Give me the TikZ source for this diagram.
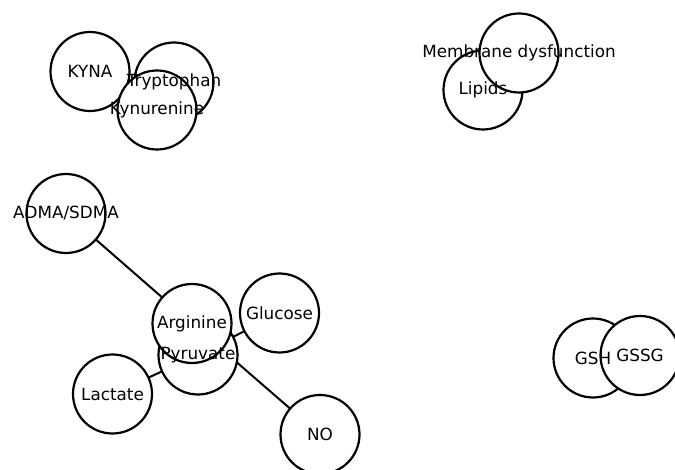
\documentclass[tikz,border=0pt]{standalone}
\usepackage{fontspec}
\setmainfont{DejaVu Sans}
\usetikzlibrary{backgrounds}
\begin{document}
\begin{tikzpicture}[x=1pt,y=-1pt,
  ent/.style={circle,draw=black,fill=white,line width=2.2pt,minimum size=79pt,inner sep=0pt},
  lbl/.style={font=\fontsize{16.8}{19}\selectfont,inner sep=0pt,text=black},
  link/.style={line width=2pt,draw=black}]
\useasboundingbox (0,0) rectangle (675,470);
% circles (drawing order matters)
\node[ent] (kyna) at (90,71.5) {};
\node[ent] (trp) at (174,82) {};
\node[ent] (kyn) at (157,110) {};
\node[ent] (lip) at (483,90) {};
\node[ent] (mem) at (519,53) {};
\node[ent] (adma) at (66,213.5) {};
\node[ent] (pyr) at (198,355) {};
\node[ent] (arg) at (192,323.5) {};
\node[ent] (glc) at (279.5,313) {};
\node[ent] (lac) at (112.5,394) {};
\node[ent] (no) at (320,434.5) {};
\node[ent] (gsh) at (593,358) {};
\node[ent] (gssg) at (640,355.5) {};
% connectors
\begin{pgfonlayer}{background}
\draw[link] (adma.center) -- (arg.center);
\draw[link] (arg.center) -- (no.center);
\draw[link] (pyr.center) -- (glc.center);
\draw[link] (pyr.center) -- (lac.center);
\end{pgfonlayer}
% labels
\node[lbl] at (kyna) {KYNA};
\node[lbl] at (trp) {Tryptophan};
\node[lbl] at (kyn) {Kynurenine};
\node[lbl] at (lip) {Lipids};
\node[lbl] at (mem) {Membrane dysfunction};
\node[lbl] at (adma) {ADMA/SDMA};
\node[lbl] at (pyr) {Pyruvate};
\node[lbl] at (arg) {Arginine};
\node[lbl] at (glc) {Glucose};
\node[lbl] at (lac) {Lactate};
\node[lbl] at (no) {NO};
\node[lbl] at (gsh) {GSH};
\node[lbl] at (gssg) {GSSG};
\end{tikzpicture}
\end{document}
